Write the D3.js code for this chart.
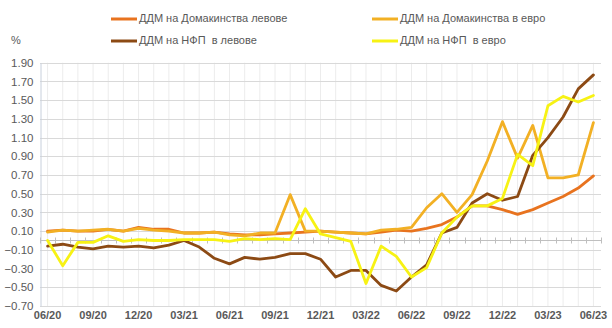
<!DOCTYPE html>
<html>
<head>
<meta charset="utf-8">
<script src="https://cdn.jsdelivr.net/npm/d3@7"></script>
<style>
  html, body { margin: 0; padding: 0; background: #ffffff; }
  svg { display: block; }
  text { font-family: "Liberation Sans", Arial, sans-serif; fill: #595959; }
</style>
</head>
<body>
<svg id="chart" width="612" height="328"></svg>
<script>
// Monthly observations, 06/2020 – 06/2023
const months = [
  "06/20","07/20","08/20","09/20","10/20","11/20","12/20","01/21","02/21","03/21",
  "04/21","05/21","06/21","07/21","08/21","09/21","10/21","11/21","12/21","01/22",
  "02/22","03/22","04/22","05/22","06/22","07/22","08/22","09/22","10/22","11/22",
  "12/22","01/23","02/23","03/23","04/23","05/23","06/23"
];
const tickLabels = ["06/20","09/20","12/20","03/21","06/21","09/21","12/21","03/22","06/22","09/22","12/22","03/23","06/23"];
const yTicks = [-0.70,-0.50,-0.30,-0.10,0.10,0.30,0.50,0.70,0.90,1.10,1.30,1.50,1.70,1.90];

const seriesNames = [
  "ДДМ на Домакинства левове",
  "ДДМ на Домакинства в евро",
  "ДДМ на НФП  в левове",
  "ДДМ на НФП  в евро"
];

const householdsBgn = [
  0.10,0.11,0.10,0.10,0.12,0.10,0.14,0.12,0.12,0.08,
  0.08,0.09,0.07,0.06,0.06,0.07,0.08,0.09,0.10,0.09,
  0.08,0.07,0.09,0.11,0.10,0.13,0.17,0.25,0.37,0.37,
  0.33,0.28,0.33,0.40,0.47,0.56,0.69
];
const householdsEur = [
  0.09,0.11,0.10,0.11,0.12,0.10,0.13,0.11,0.10,0.08,
  0.08,0.09,0.06,0.05,0.08,0.08,0.49,0.10,0.10,0.09,
  0.08,0.07,0.11,0.12,0.14,0.35,0.50,0.30,0.49,0.85,
  1.27,0.88,1.23,0.67,0.67,0.70,1.26
];
const corporatesBgn = [
  -0.06,-0.04,-0.07,-0.09,-0.06,-0.07,-0.06,-0.08,-0.05,0.00,
  -0.07,-0.19,-0.25,-0.18,-0.20,-0.18,-0.14,-0.14,-0.20,-0.39,
  -0.32,-0.32,-0.48,-0.54,-0.39,-0.26,0.08,0.14,0.40,0.50,
  0.43,0.47,0.91,1.10,1.32,1.62,1.77
];
const corporatesEur = [
  0.00,-0.27,-0.02,-0.02,0.05,-0.01,0.01,0.00,0.00,0.01,
  0.01,0.01,-0.01,0.02,0.01,0.02,0.01,0.34,0.07,0.03,
  -0.01,-0.46,-0.06,-0.17,-0.39,-0.29,0.08,0.25,0.37,0.37,
  0.45,0.92,0.80,1.44,1.54,1.48,1.55
];

const seriesColors = ["#E8731F", "#F2B024", "#8C4A14", "#F7F214"];
const seriesValues = [householdsBgn, householdsEur, corporatesBgn, corporatesEur];

const svg = d3.select("#chart");
const plot = { left: 40, right: 601, top: 62.7, bottom: 306 };

const x = d3.scaleBand().domain(months).range([plot.left, plot.right]).padding(0);
const y = d3.scaleLinear().domain([-0.70, 1.90]).range([plot.bottom, plot.top]);
const cx = m => x(m) + x.bandwidth() / 2;

// Vertical grid at each month
svg.append("g")
  .selectAll("line")
  .data(months)
  .join("line")
  .attr("x1", d => cx(d)).attr("x2", d => cx(d))
  .attr("y1", plot.top).attr("y2", plot.bottom)
  .attr("stroke", "#ececec").attr("stroke-width", 1);

// Horizontal grid
svg.append("g")
  .selectAll("line")
  .data(yTicks)
  .join("line")
  .attr("x1", plot.left).attr("x2", plot.right)
  .attr("y1", d => Math.round(y(d)) + 0.5).attr("y2", d => Math.round(y(d)) + 0.5)
  .attr("stroke", "#d9d9d9").attr("stroke-width", 1);

// Value axis
const yAxis = svg.append("g")
  .attr("transform", `translate(${plot.left + 0.5},0)`)
  .call(d3.axisLeft(y).tickValues(yTicks).tickFormat(d3.format(".2f")).tickSize(0).tickPadding(7));
yAxis.select(".domain").attr("stroke", "#c8d0dc");
yAxis.selectAll("text")
  .style("font-family", "'Liberation Sans', Arial, sans-serif")
  .style("font-size", "11.5px").attr("fill", "#595959");

// Category axis along zero, ticks at month boundaries
const zeroY = Math.round(y(0)) + 0.5;
svg.append("line")
  .attr("x1", plot.left).attr("x2", plot.right)
  .attr("y1", zeroY).attr("y2", zeroY)
  .attr("stroke", "#bfbfbf").attr("stroke-width", 1);
svg.append("g")
  .selectAll("line")
  .data(months.concat(["end"]))
  .join("line")
  .attr("x1", (d, i) => Math.round(plot.left + i * x.bandwidth()) + 0.5)
  .attr("x2", (d, i) => Math.round(plot.left + i * x.bandwidth()) + 0.5)
  .attr("y1", zeroY - 3).attr("y2", zeroY + 3)
  .attr("stroke", "#bfbfbf").attr("stroke-width", 1);

// Category labels below the plot
const xAxis = svg.append("g")
  .attr("transform", `translate(0,${plot.bottom})`)
  .call(d3.axisBottom(x).tickValues(tickLabels).tickSize(0).tickPadding(5));
xAxis.select(".domain").remove();
xAxis.selectAll("text")
  .style("font-family", "'Liberation Sans', Arial, sans-serif")
  .style("font-size", "11px").style("font-weight", "bold").attr("fill", "#595959");

// Series lines
const line = d3.line()
  .x((d, i) => cx(months[i]))
  .y(d => y(d));

svg.append("g")
  .selectAll("path")
  .data(seriesValues)
  .join("path")
  .attr("d", d => line(d))
  .attr("fill", "none")
  .attr("stroke", (d, i) => seriesColors[i])
  .attr("stroke-width", 2.8)
  .attr("stroke-linejoin", "round")
  .attr("stroke-linecap", "round");

// Unit label
svg.append("text")
  .attr("x", 11).attr("y", 41)
  .attr("dominant-baseline", "middle")
  .style("font-size", "11px")
  .text("%");

// Legend, two rows by two columns
const legendPos = [
  { x: 111, y: 19 }, { x: 372, y: 19 },
  { x: 111, y: 41 }, { x: 372, y: 41 }
];
const legend = svg.append("g")
  .selectAll("g")
  .data(seriesNames)
  .join("g")
  .attr("transform", (d, i) => `translate(${legendPos[i].x},${legendPos[i].y})`);
legend.append("line")
  .attr("x1", 0).attr("x2", 26).attr("y1", 0).attr("y2", 0)
  .attr("stroke", (d, i) => seriesColors[i]).attr("stroke-width", 3);
legend.append("text")
  .attr("x", 28).attr("y", 0)
  .attr("dominant-baseline", "middle")
  .style("font-size", "11px")
  .style("white-space", "pre")
  .attr("xml:space", "preserve")
  .text(d => d);
</script>
</body>
</html>
